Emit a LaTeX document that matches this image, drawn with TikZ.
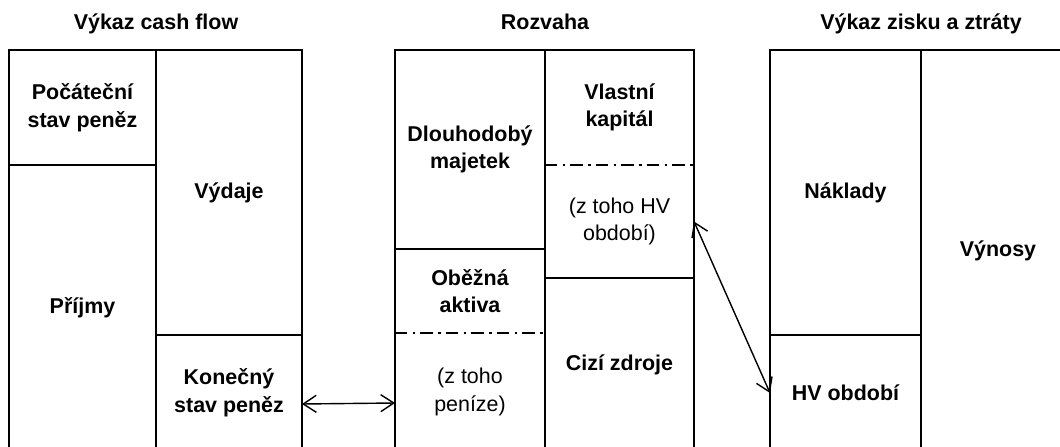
\documentclass[tikz,border=0pt]{standalone}
\usepackage{fontspec}
\setmainfont{Liberation Sans}
\usetikzlibrary{positioning,arrows.meta}

\newcommand{\cellLabelFont}{\fontsize{12.2}{15.7}\selectfont\bfseries}
\newcommand{\cellNoteFont}{\fontsize{12.2}{15.7}\selectfont}

\tikzstyle{cellNode} = [rectangle, draw=black, line width=0.8pt, outer sep=0pt, inner sep=2pt, align=center, font=\cellLabelFont]
\tikzstyle{noteNode} = [cellNode, draw=none, font=\cellNoteFont]
\tikzstyle{titleNode} = [font=\cellLabelFont]
\tikzstyle{cellLine} = [line width=0.8pt]
\tikzstyle{frame} = [line width=1.6pt]
\tikzstyle{split} = [line width=0.7pt, dash pattern=on 7pt off 3pt on 1.5pt off 3pt]
\tikzstyle{dblArrow} = [line width=0.8pt,<->,>={Straight Barb[length=2.6mm,width=3.4mm]}]

\begin{document}
\begin{tikzpicture}
    \useasboundingbox (0,0) rectangle (21.2,8.92);
    \clip (0,0) rectangle (21.2,8.92);

    % vykaz cash flow
    \node (pocatecni)[cellNode, anchor=north west, minimum width=2.94cm, minimum height=2.30cm] at (0.18,7.92) {Počáteční \\ stav peněz};
    \node (prijmy)[cellNode, below=0pt of pocatecni, minimum width=2.94cm, minimum height=5.72cm] {Příjmy};
    \node (vydaje)[cellNode, right=0pt of pocatecni.north east, anchor=north west, minimum width=2.92cm, minimum height=5.70cm] {Výdaje};
    \node (konecny)[cellNode, below=0pt of vydaje, minimum width=2.92cm, minimum height=2.32cm] {Konečný \\ stav peněz};
    \node (cftitle)[titleNode, above=0.40cm of pocatecni.north east, anchor=base] {Výkaz cash flow};

    % rozvaha
    \node (dlouhodoby)[cellNode, anchor=north west, minimum width=3.00cm, minimum height=3.98cm] at (7.90,7.92) {Dlouhodobý \\ majetek};
    \node (obezna)[cellNode, draw=none, below=0pt of dlouhodoby, minimum width=3.00cm, minimum height=1.68cm] {Oběžná \\ aktiva};
    \node (penize)[noteNode, below=0pt of obezna, minimum width=3.00cm, minimum height=2.36cm] {(z toho \\ peníze)};
    \node (vlastni)[cellNode, draw=none, right=0pt of dlouhodoby.north east, anchor=north west, minimum width=2.98cm, minimum height=2.30cm] {Vlastní \\ kapitál};
    \node (hvcast)[noteNode, below=0pt of vlastni, minimum width=2.98cm, minimum height=2.26cm] {(z toho HV \\ období)};
    \node (cizi)[cellNode, below=0pt of hvcast, minimum width=2.98cm, minimum height=3.46cm] {Cizí zdroje};
    \node (rztitle)[titleNode, above=0.40cm of dlouhodoby.north east, anchor=base] {Rozvaha};

    % vykaz zisku a ztraty
    \node (naklady)[cellNode, anchor=north west, minimum width=3.02cm, minimum height=5.70cm] at (15.40,7.92) {Náklady};
    \node (hvobdobi)[cellNode, below=0pt of naklady, minimum width=3.02cm, minimum height=2.32cm] {HV období};
    \node (vynosy)[cellNode, right=0pt of naklady.north east, anchor=north west, minimum width=3.08cm, minimum height=8.02cm] {Výnosy};
    \node (vzztitle)[titleNode, above=0.40cm of naklady.north east, anchor=base] {Výkaz zisku a ztráty};

    \draw [cellLine] (obezna.north west) rectangle (penize.south east);
    \draw [cellLine] (vlastni.north west) rectangle (hvcast.south east);
    \draw [split] (obezna.south west) -- (obezna.south east);
    \draw [split] (vlastni.south west) -- (vlastni.south east);

    \draw [frame] (prijmy.south west) -- (pocatecni.north west) -- (vydaje.north east) -- (konecny.south east);
    \draw [frame] (penize.south west) -- (dlouhodoby.north west) -- (vlastni.north east) -- (cizi.south east);
    \draw [frame] (hvobdobi.south west) -- (naklady.north west) -- (vynosy.north east);

    \draw [dblArrow] ([yshift=-0.22cm]konecny.east) -- ([yshift=-0.22cm]penize.west);
    \draw [dblArrow] (hvcast.east) -- (hvobdobi.west);

  \end{tikzpicture}
\end{document}
